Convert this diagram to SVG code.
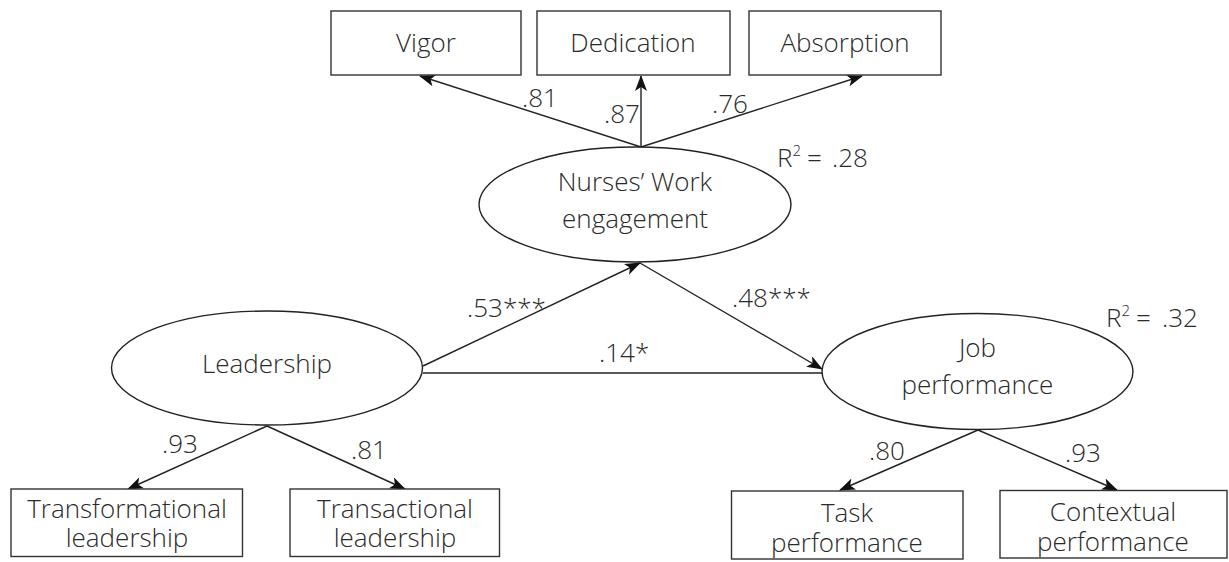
<svg xmlns="http://www.w3.org/2000/svg" width="1229" height="562" viewBox="0 0 1229 562">
<style>
  text { font-family: "Open Sans", "Noto Sans", "Liberation Sans", sans-serif; font-weight: 300; font-size: 26px; fill: #2a2a2a; }
  .c { text-anchor: middle; }
  .box { fill: #fff; stroke: #333; stroke-width: 1.4; }
  .lat { fill: #fff; stroke: #222; stroke-width: 1.4; }
  .edge { stroke: #222; stroke-width: 1.4; fill: none; }
  .sup { font-size: 15px; }
</style>
<defs>
  <marker id="ah" markerUnits="userSpaceOnUse" markerWidth="16" markerHeight="12" refX="15" refY="6" orient="auto">
    <path d="M0,0 L16,6 L0,12 L4,6 z" fill="#111"/>
  </marker>
</defs>
<rect width="1229" height="562" fill="#fff"/>

<g id="connectors">
  <line class="edge" x1="641" y1="147" x2="420" y2="76" marker-end="url(#ah)"/>
  <line class="edge" x1="641" y1="147" x2="641" y2="76" marker-end="url(#ah)"/>
  <line class="edge" x1="641" y1="147" x2="862" y2="76" marker-end="url(#ah)"/>
  <line class="edge" x1="423" y1="366" x2="640" y2="263" marker-end="url(#ah)"/>
  <line class="edge" x1="640" y1="263" x2="822" y2="369" marker-end="url(#ah)"/>
  <line class="edge" x1="423" y1="373" x2="822" y2="373"/>
  <line class="edge" x1="267" y1="426" x2="128" y2="489" marker-end="url(#ah)"/>
  <line class="edge" x1="267" y1="426" x2="405" y2="489" marker-end="url(#ah)"/>
  <line class="edge" x1="978" y1="430" x2="840" y2="490" marker-end="url(#ah)"/>
  <line class="edge" x1="978" y1="430" x2="1117" y2="490" marker-end="url(#ah)"/>
  <text x="522" y="107">.81</text>
  <text x="604" y="123">.87</text>
  <text x="712" y="113">.76</text>
  <text x="467" y="317">.53***</text>
  <text x="732" y="307">.48***</text>
  <text x="599" y="362">.14*</text>
  <text x="162" y="453">.93</text>
  <text x="351" y="459">.81</text>
  <text x="869" y="460">.80</text>
  <text x="1065" y="462">.93</text>
</g>

<g id="vigor">
  <rect class="box" x="331" y="11" width="190" height="64"/>
  <text class="c" x="426" y="52">Vigor</text>
</g>
<g id="dedication">
  <rect class="box" x="537" y="11" width="193" height="64"/>
  <text class="c" x="633" y="52">Dedication</text>
</g>
<g id="absorption">
  <rect class="box" x="749" y="11" width="192" height="64"/>
  <text class="c" x="845" y="52">Absorption</text>
</g>

<g id="engagement">
  <ellipse class="lat" cx="635" cy="204.5" rx="156" ry="57.5"/>
  <text class="c" x="635" y="191">Nurses’ Work</text>
  <text class="c" x="635" y="228">engagement</text>
  <text x="777" y="167">R<tspan class="sup" dy="-11">2</tspan><tspan dy="11" x="807">=</tspan><tspan x="832">.28</tspan></text>
</g>

<g id="leadership">
  <ellipse class="lat" cx="267" cy="368" rx="155.5" ry="57"/>
  <text class="c" x="267" y="373">Leadership</text>
</g>

<g id="jobperformance">
  <ellipse class="lat" cx="977.5" cy="371.5" rx="155.5" ry="58"/>
  <text class="c" x="977.5" y="357">Job</text>
  <text class="c" x="977.5" y="394">performance</text>
  <text x="1106" y="327">R<tspan class="sup" dy="-11">2</tspan><tspan dy="11" x="1136">=</tspan><tspan x="1162">.32</tspan></text>
</g>

<g id="transformational">
  <rect class="box" x="11" y="489" width="231.5" height="67.5"/>
  <text class="c" x="127" y="518">Transformational</text>
  <text class="c" x="127" y="547">leadership</text>
</g>
<g id="transactional">
  <rect class="box" x="290" y="489" width="209.5" height="67.5"/>
  <text class="c" x="395" y="518">Transactional</text>
  <text class="c" x="395" y="547">leadership</text>
</g>
<g id="task">
  <rect class="box" x="731.5" y="491" width="231.5" height="68"/>
  <text class="c" x="847" y="522">Task</text>
  <text class="c" x="847" y="552">performance</text>
</g>
<g id="contextual">
  <rect class="box" x="1000" y="490.5" width="227" height="67.5"/>
  <text class="c" x="1113" y="521">Contextual</text>
  <text class="c" x="1113" y="551">performance</text>
</g>
</svg>
